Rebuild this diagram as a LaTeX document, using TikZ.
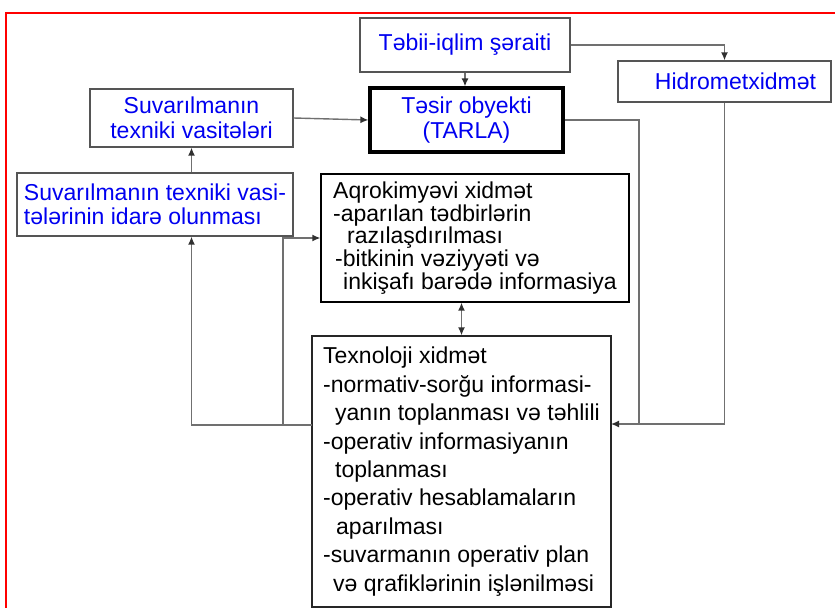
\documentclass[tikz,border=0pt]{standalone}
\usepackage{fontspec}
\setmainfont{Liberation Sans}
\usetikzlibrary{arrows.meta}
\definecolor{linkgray}{HTML}{707070}
\definecolor{boxgray}{HTML}{555555}
\definecolor{tipgray}{HTML}{303030}
\definecolor{labelblue}{HTML}{0000F0}
\begin{document}
\begin{tikzpicture}[x=1pt,y=-1pt,
  box/.style={draw=boxgray, line width=1.3pt, inner sep=0pt, fill=white},
  bluetext/.style={text=labelblue, font=\fontsize{23}{24.5}\selectfont, align=center},
  listtext/.style={text=black, align=left},
  link/.style={draw=linkgray, line width=1.4pt},
  tip/.style={-{Latex[length=8pt,width=7pt,color=tipgray]}},
  twotip/.style={{Latex[length=8pt,width=7pt,color=tipgray]}-{Latex[length=8pt,width=7pt,color=tipgray]}},
]
\useasboundingbox (0,0) rectangle (835,608);
\fill[white] (0,0) rectangle (835,608);

% frame
\draw[red, line width=1.5pt] (835,13) -- (6,13) -- (6,608);

% boxes
\node[box, bluetext, minimum width=210pt, minimum height=54pt] (tebii) at (465,45) {Təbii-iqlim şəraiti};
\node[box, bluetext, minimum width=213pt, minimum height=41pt] (hidro) at (724.5,81.5) {\hspace*{22pt}Hidrometxidmət};
\node[box, bluetext, draw=black, line width=3.2pt, minimum width=193pt, minimum height=64pt] (tesir) at (466.5,120) {Təsir obyekti\\(TARLA)};
\node[box, bluetext, minimum width=203pt, minimum height=58pt] (suvtex) at (191.5,118) {Suvarılmanın\\texniki vasitələri};
\node[box, bluetext, align=left, font=\fontsize{23}{24}\selectfont, minimum width=276pt, minimum height=63pt] (idare) at (155,204.5)
  {Suvarılmanın texniki vasi-\\tələrinin idarə olunması};
\node[box, listtext, draw=black, font=\fontsize{23}{22.8}\selectfont, minimum width=308pt, minimum height=128pt] (agro) at (475,238)
  {Aqrokimyəvi xidmət\hspace*{6pt}\\
   -aparılan tədbirlərin\\
   \hspace*{14pt}razılaşdırılması\\
   \hspace*{2pt}-bitkinin vəziyyəti və\\
   \hspace*{10pt}inkişafı barədə informasiya};
\node[box, listtext, draw=black!85, font=\fontsize{23}{28.4}\selectfont, minimum width=299pt, minimum height=271pt] (texno) at (461.5,471.5)
  {Texnoloji xidmət\\
   -normativ-sorğu informasi-\\
   \hspace*{12pt}yanın toplanması və təhlili\\
   -operativ informasiyanın\\
   \hspace*{12pt}toplanması\\
   -operativ hesablamaların\\
   \hspace*{13pt}aparılması\\
   -suvarmanın operativ plan\\
   \hspace*{10pt}və qrafiklərinin işlənilməsi};

% junction points on the feedback lines
\coordinate (rj) at (639,424);
\coordinate (tin) at (611,424);
\coordinate (tout) at (312,425);
\coordinate (bj) at (283,425);

% connectors
\draw[link, tip] (tebii.east) -| (hidro.north);
\draw[link, tip] (tebii.south) -- (tebii.south |- tesir.north);
\draw[link, tip] (suvtex.east) -- (tesir.west);
\draw[link, tip] (idare.north -| suvtex.south) -- (suvtex.south);
\draw[link] (tesir.east) -| (rj);
\draw[link, tip] (hidro.south) |- (tin);
\draw[link, tip] (tout) -| (idare.south -| suvtex.south);
\draw[link, tip] (bj) |- (agro.west);
\draw[link, twotip] (texno.north) -- (texno.north |- agro.south);
\end{tikzpicture}
\end{document}
